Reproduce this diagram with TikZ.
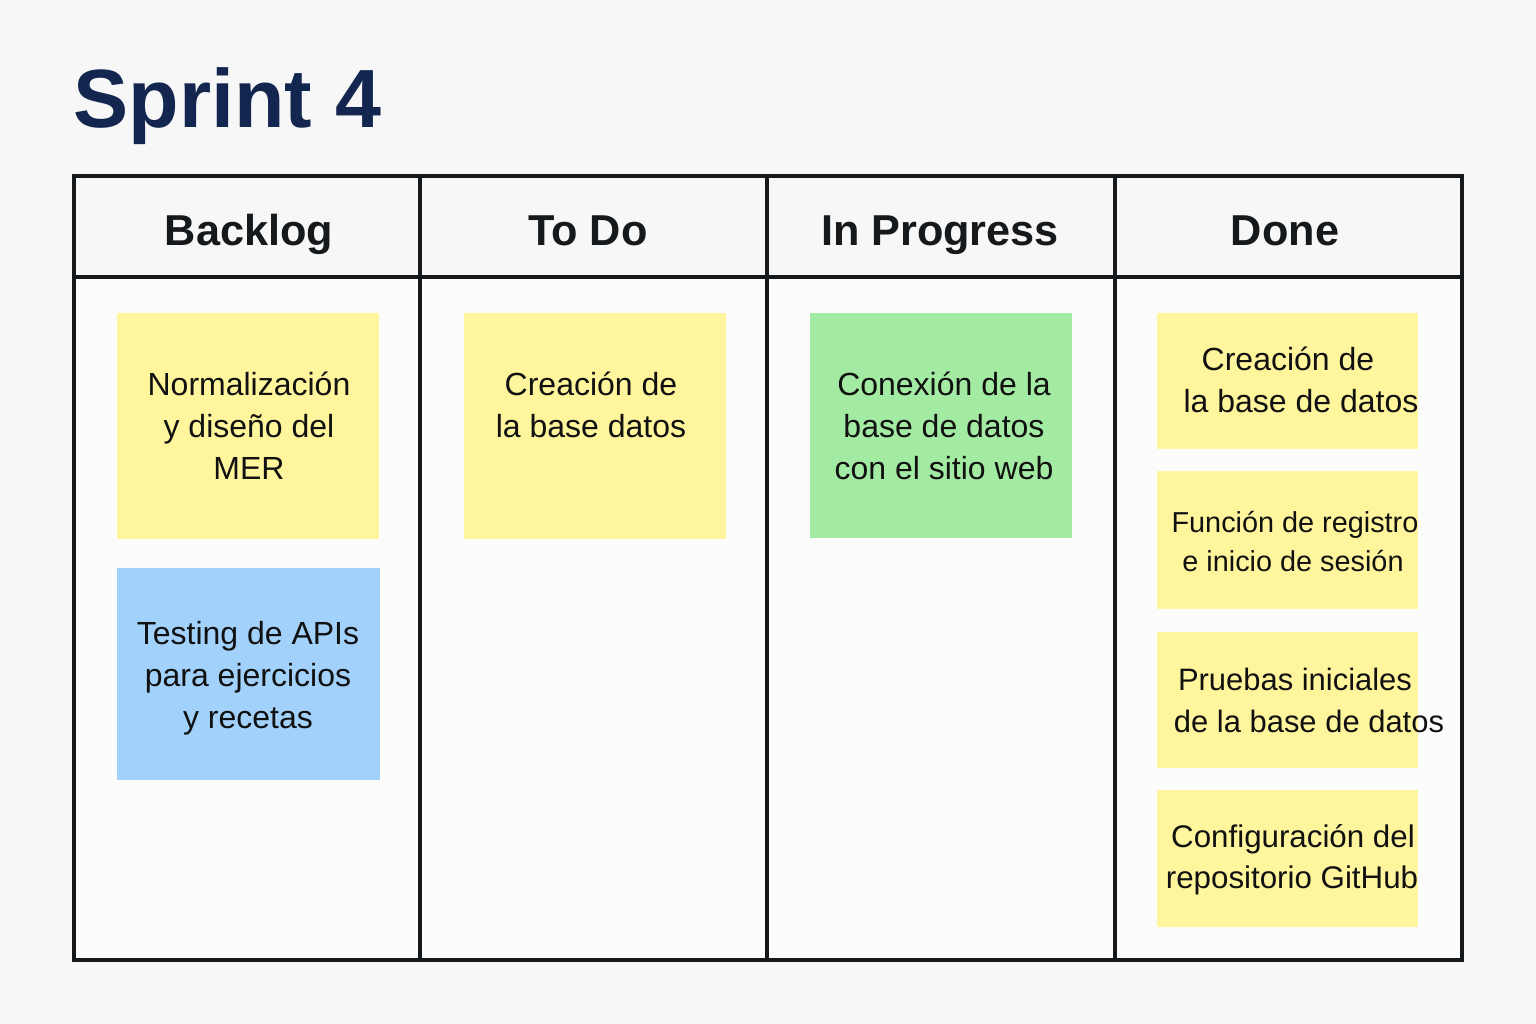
\documentclass[tikz,border=0pt]{standalone}
\usepackage{fontspec}
\setmainfont{Liberation Sans}
\definecolor{bgc}{HTML}{F7F7F7}
\definecolor{boardc}{HTML}{FCFCFC}
\definecolor{titlec}{HTML}{13264F}
\definecolor{linec}{HTML}{16191C}
\definecolor{yel}{HTML}{FFF59D}
\definecolor{blu}{HTML}{A2D2FB}
\definecolor{grn}{HTML}{A3EBA3}
\definecolor{txt}{HTML}{111111}
\begin{document}
\begin{tikzpicture}[x=0.01cm,y=-0.01cm,
  cardtext/.style={inner sep=0pt,align=center,text=txt,font=\fontsize{9.1}{12}\selectfont},
  headtext/.style={inner sep=0pt,anchor=base,text=linec,font=\bfseries\fontsize{12.3}{15}\selectfont},
  boardline/.style={draw=linec,line width=1.2pt}]
\fill[bgc] (0,0) rectangle (1536,1024);
\useasboundingbox (0,0) rectangle (1536,1024);
\node[anchor=base west,inner sep=0pt,text=titlec,font=\bfseries\fontsize{23.5}{28}\selectfont] (title) at (73,127) {Sprint 4};
% board
\fill[boardc] (74,176) rectangle (1462,960);
\fill[bgc] (74,176) rectangle (1462,277);
\coordinate (b1) at (74,176);
\coordinate (b2) at (1462,960);
\draw[boardline] (b1) rectangle (b2);
\draw[boardline] (74,277) -- (1462,277);
\draw[boardline] (420,176) -- (420,960);
\draw[boardline] (767,176) -- (767,960);
\draw[boardline] (1115,176) -- (1115,960);
% headers
\node[headtext] (h1) at (249,245) {Backlog};
\node[headtext] (h2) at (588,245) {To Do};
\node[headtext] (h3) at (940,245) {In Progress};
\node[headtext] (h4) at (1285,245) {Done};
% cards
\fill[yel] (117,313) rectangle (379,539);
\fill[blu] (117,568) rectangle (380,780);
\fill[yel] (464,313) rectangle (726,539);
\fill[grn] (810,313) rectangle (1072,538);
\fill[yel] (1157,313) rectangle (1418,449);
\fill[yel] (1157,471) rectangle (1418,609);
\fill[yel] (1157,632) rectangle (1418,768);
\fill[yel] (1157,790) rectangle (1418,927);
% texts
\node[cardtext] (t1) at (249,426) {Normalización\\y diseño del\\MER};
\node[cardtext] (t2) at (248,678) {Testing de APIs\\para ejercicios\\y recetas};
\node[cardtext] (t3) at (591,405) {Creación de\\la base datos};
\node[cardtext] (t4) at (944,426) {Conexión de la\\base de datos\\con el sitio web};
\node[cardtext,anchor=base] (t5a) at (1288,370) {Creación de};
\node[cardtext,anchor=base] (t5b) at (1301,412) {la base de datos};
\node[cardtext,anchor=base,font=\fontsize{8.2}{11}\selectfont] (t6a) at (1295,532) {Función de registro};
\node[cardtext,anchor=base,font=\fontsize{8.2}{11}\selectfont] (t6b) at (1293,571) {e inicio de sesión};
\node[cardtext,anchor=base,font=\fontsize{8.8}{12}\selectfont] (t7a) at (1295,690) {Pruebas iniciales};
\node[cardtext,anchor=base,font=\fontsize{8.8}{12}\selectfont] (t7b) at (1309,732) {de la base de datos};
\node[cardtext,anchor=base,font=\fontsize{8.9}{12}\selectfont] (t8a) at (1293,847) {Configuración del};
\node[cardtext,anchor=base,font=\fontsize{8.9}{12}\selectfont] (t8b) at (1292,888) {repositorio GitHub};
\end{tikzpicture}
\end{document}
